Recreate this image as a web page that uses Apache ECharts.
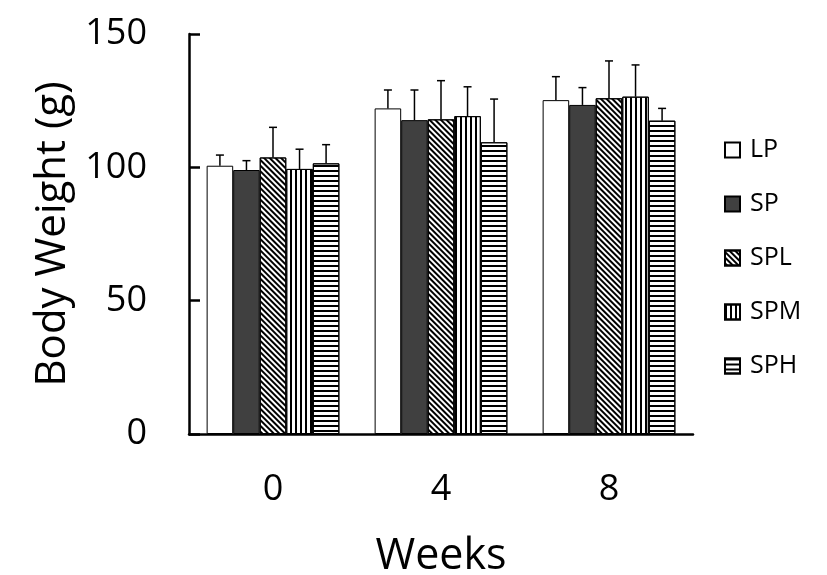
<!DOCTYPE html>
<html>
<head>
<meta charset="utf-8">
<script src="https://cdn.jsdelivr.net/npm/echarts@6/dist/echarts.min.js"></script>
<style>html,body{margin:0;padding:0;background:#fff;}#c{width:827px;height:575px;}</style>
</head>
<body>
<div id="c"></div>
<script>
const weeks = ['0', '4', '8'];
const seriesNames = ['LP', 'SP', 'SPL', 'SPM', 'SPH'];
const LP = [100.6, 122.1, 125.2];
const SP = [99.0, 117.7, 123.4];
const SPL = [103.7, 118.0, 125.9];
const SPM = [99.4, 119.2, 126.5];
const SPH = [101.5, 109.4, 117.5];
const LP_err = [4.0, 6.9, 8.8];
const SP_err = [3.5, 11.3, 6.5];
const SPL_err = [11.3, 14.5, 14.0];
const SPM_err = [7.4, 11.0, 11.9];
const SPH_err = [7.0, 16.2, 4.6];
const yTicks = [0, 50, 100, 150];

const values = [LP, SP, SPL, SPM, SPH];
const errs = [LP_err, SP_err, SPL_err, SPM_err, SPH_err];
const FONT = '"Open Sans", sans-serif';
const CAT_GAP = 0.21;

const styles = [
  { color: '#ffffff' },
  { color: '#404040' },
  { color: '#ffffff', decal: { symbol: 'rect', symbolSize: 1, color: '#000', dashArrayX: [1, 0], dashArrayY: [1.6, 1.9], rotation: Math.PI / 4 } },
  { color: '#ffffff', decal: { symbol: 'rect', symbolSize: 1, color: '#000', dashArrayX: [1.5, 3], dashArrayY: [1, 0], rotation: 0 } },
  { color: '#ffffff', decal: { symbol: 'rect', symbolSize: 1, color: '#000', dashArrayX: [1, 0], dashArrayY: [1.5, 2.5], rotation: 0 } }
];

const barSeries = seriesNames.map((name, i) => ({
  name: name,
  type: 'bar',
  data: values[i],
  barGap: '0%',
  barCategoryGap: (CAT_GAP * 100) + '%',
  itemStyle: Object.assign({ borderColor: '#000', borderWidth: 1 }, styles[i]),
  emphasis: { disabled: true },
  animation: false
}));

const errData = [];
for (let s = 0; s < seriesNames.length; s++) {
  for (let c = 0; c < weeks.length; c++) {
    errData.push([c, values[s][c], values[s][c] + errs[s][c], s]);
  }
}

const errSeries = {
  type: 'custom',
  name: 'err',
  data: errData,
  encode: { x: 0, y: 2 },
  z: 1,
  silent: true,
  animation: false,
  renderItem: function (params, api) {
    const c = api.value(0), v = api.value(1), top = api.value(2), s = api.value(3);
    const base = api.coord([c, v]);
    const tp = api.coord([c, top]);
    const band = api.size([1, 0])[0];
    const bw = band * (1 - CAT_GAP) / 5;
    const x = base[0] + (s - 2) * bw;
    const half = 4;
    return {
      type: 'group',
      children: [
        { type: 'line', shape: { x1: x, y1: base[1], x2: x, y2: tp[1] }, style: { stroke: '#000', lineWidth: 1.5 } },
        { type: 'line', shape: { x1: x - half, y1: tp[1], x2: x + half, y2: tp[1] }, style: { stroke: '#000', lineWidth: 1.5 } }
      ]
    };
  }
};

const chart = echarts.init(document.getElementById('c'), null, { renderer: 'canvas' });
chart.setOption({
  backgroundColor: '#fff',
  animation: false,
  grid: { left: 189, right: 134, top: 34, bottom: 141, containLabel: false, outerBoundsMode: 'none' },
  legend: {
    data: seriesNames.map(n => ({ name: n, icon: 'rect' })),
    orient: 'vertical',
    left: 719,
    top: 132,
    itemWidth: 15,
    itemHeight: 15,
    itemGap: 28,
    selectedMode: false,
    textStyle: { fontFamily: FONT, fontSize: 25, color: '#000', lineHeight: 26, padding: [0, 0, 0, 5] }
  },
  xAxis: {
    type: 'category',
    data: weeks,
    axisLine: { lineStyle: { color: '#000', width: 2.5 } },
    axisTick: { inside: true, length: 11, lineStyle: { color: '#000', width: 2.5 } },
    axisLabel: { margin: 38, fontFamily: FONT, fontSize: 36, color: '#000' },
    name: 'Weeks',
    nameLocation: 'middle',
    nameGap: 101,
    nameTextStyle: { fontFamily: FONT, fontSize: 43, color: '#000' }
  },
  yAxis: {
    type: 'value',
    min: yTicks[0],
    max: yTicks[yTicks.length - 1],
    interval: yTicks[1] - yTicks[0],
    splitLine: { show: false },
    axisLine: { show: true, lineStyle: { color: '#000', width: 2.5 } },
    axisTick: { show: true, inside: true, length: 11, lineStyle: { color: '#000', width: 2.5 } },
    axisLabel: { margin: 42, fontFamily: FONT, fontSize: 36, color: '#000' },
    name: 'Body Weight (g)',
    nameLocation: 'middle',
    nameGap: 113,
    nameTextStyle: { fontFamily: FONT, fontSize: 42, color: '#000' }
  },
  series: barSeries.concat([errSeries])
});
</script>
</body>
</html>
